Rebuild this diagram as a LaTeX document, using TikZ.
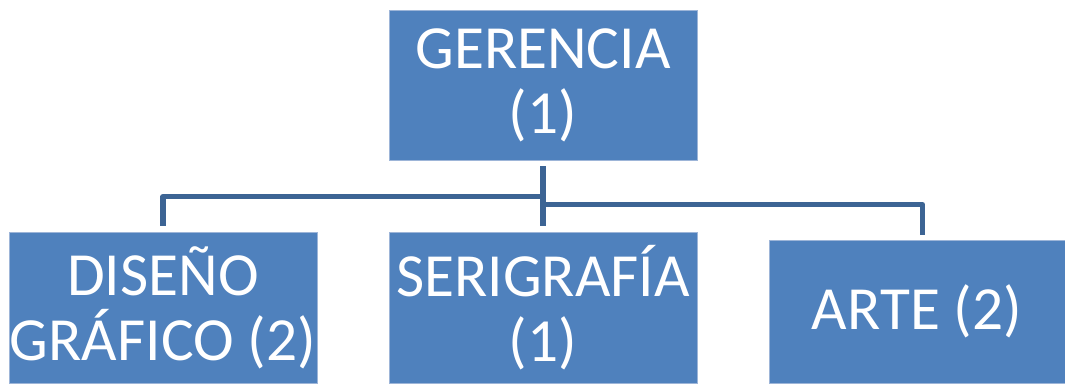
\documentclass[tikz,border=0pt]{standalone}
\usepackage{fontspec}
\setmainfont{Carlito}
\definecolor{boxfill}{HTML}{4F81BD}
\definecolor{boxedge}{HTML}{9DB5D8}
\definecolor{linkblue}{HTML}{3C6494}
\tikzset{
  unit/.style={draw=boxedge, line width=0.6pt, fill=boxfill, text=white,
    align=center, inner sep=0pt, font=\fontsize{46}{48.75}\selectfont},
  conn/.style={draw=linkblue, line width=3.8pt, line join=round}
}
\begin{document}
\begin{tikzpicture}[x=0.75pt,y=-0.75pt]
\useasboundingbox (0,0) rectangle (1065,385);
% boxes
\node[unit, minimum width=308*0.75pt, minimum height=150*0.75pt] (ger) at (543,85) {GERENCIA\\(1)};
\node[unit, minimum width=308*0.75pt, minimum height=151*0.75pt] (dis) at (163,307.5) {DISEÑO\\GRÁFICO (2)};
\node[unit, minimum width=308*0.75pt, minimum height=151*0.75pt] (ser) at (543,307.5) {SERIGRAFÍA\\(1)};
\node[unit, minimum width=296*0.75pt, minimum height=143*0.75pt] (arte) at (917,311.5) {ARTE (2)};
% branch points and the drop onto the right box
\coordinate (jl) at (543,196.5);
\coordinate (jr) at (543,204.5);
\coordinate (ar) at (922.5,240);
% connectors
\draw[conn, shorten <=4.5pt, shorten >=4pt] (ger.south) -- (ser.north);
\draw[conn, shorten >=4pt] (jl) -| (dis.north);
\draw[conn, shorten >=4pt] (jr) -| (ar);
\end{tikzpicture}
\end{document}
